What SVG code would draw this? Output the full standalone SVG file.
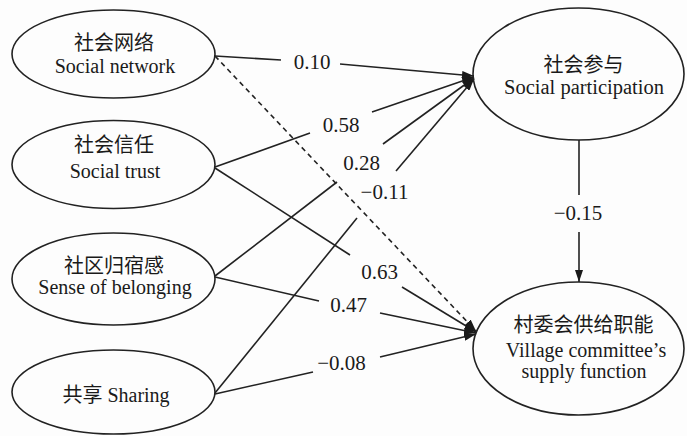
<svg xmlns="http://www.w3.org/2000/svg" width="687" height="436" viewBox="0 0 687 436">
<defs>
<marker id="ah" viewBox="0 0 12 8" refX="12" refY="4" markerWidth="12" markerHeight="8" markerUnits="userSpaceOnUse" orient="auto">
<path d="M0,0 L12,4 L0,8 Z" fill="#1a1a1a"/>
</marker>
<style>
.node ellipse{fill:none;stroke:#222;stroke-width:1.6}
text{font-family:"Liberation Serif","Noto Sans CJK SC",serif;fill:#1a1a1a;text-anchor:middle}
.zh{font-size:20px}
.en{font-size:20px}
.lbl{font-size:21px}
.edges line{stroke:#222;stroke-width:1.6}
.edges .dash{stroke-dasharray:5 4}
.edges .arr{marker-end:url(#ah)}
</style>
</defs>
<rect width="687" height="436" fill="#fdfdfd"/>
<g id="edges" class="edges">
<line x1="215" y1="56" x2="281" y2="60"/>
<line class="arr" x1="340" y1="64" x2="474" y2="76"/>
<line x1="215" y1="167" x2="310" y2="133"/>
<line class="arr" x1="372" y1="112" x2="474" y2="77"/>
<line x1="215" y1="276" x2="337" y2="182"/>
<line class="arr" x1="383" y1="144" x2="474" y2="78"/>
<line x1="215" y1="393" x2="357" y2="218"/>
<line class="arr" x1="396" y1="171" x2="474" y2="79"/>
<line x1="215" y1="168" x2="350" y2="255"/>
<line class="arr" x1="402" y1="287" x2="476" y2="332"/>
<line x1="215" y1="277" x2="319" y2="301"/>
<line class="arr" x1="380" y1="313" x2="476" y2="333"/>
<line x1="215" y1="394" x2="313" y2="372"/>
<line class="arr" x1="380" y1="357" x2="476" y2="334"/>
<line class="dash arr" x1="215" y1="56" x2="476" y2="331"/>
<line x1="579" y1="140" x2="579" y2="195"/>
<line class="arr" x1="579" y1="232" x2="579" y2="282"/>
<text class="lbl" x="312" y="69">0.10</text>
<text class="lbl" x="341" y="132">0.58</text>
<text class="lbl" x="361.5" y="170">0.28</text>
<text class="lbl" x="384.5" y="199">−0.11</text>
<text class="lbl" x="379.5" y="279">0.63</text>
<text class="lbl" x="348.5" y="312">0.47</text>
<text class="lbl" x="341.5" y="370">−0.08</text>
<text class="lbl" x="578" y="220">−0.15</text>
</g>
<g id="network" class="node">
<ellipse cx="113.5" cy="54" rx="101.5" ry="44"/>
<text class="zh" x="114" y="50">社会网络</text>
<text class="en" x="115" y="73">Social network</text>
</g>
<g id="trust" class="node">
<ellipse cx="113.5" cy="164.5" rx="101.5" ry="44"/>
<text class="zh" x="114" y="152">社会信任</text>
<text class="en" x="115" y="178">Social trust</text>
</g>
<g id="belonging" class="node">
<ellipse cx="113.5" cy="279" rx="101.5" ry="46"/>
<text class="zh" x="114" y="273">社区归宿感</text>
<text class="en" x="115" y="294">Sense of belonging</text>
</g>
<g id="sharing" class="node">
<ellipse cx="113.5" cy="392" rx="101.5" ry="42"/>
<text class="en" x="116" y="402"><tspan class="zh">共享</tspan> Sharing</text>
</g>
<g id="participation" class="node">
<ellipse cx="578.5" cy="74" rx="105.5" ry="66"/>
<text class="zh" x="583.5" y="72">社会参与</text>
<text class="en" x="584" y="94" style="font-size:20.5px">Social participation</text>
</g>
<g id="committee" class="node">
<ellipse cx="578.5" cy="348.5" rx="105.5" ry="66.5"/>
<text class="zh" x="583.5" y="332">村委会供给职能</text>
<text class="en" x="586" y="357">Village committee’s</text>
<text class="en" x="584" y="378">supply function</text>
</g>
</svg>
